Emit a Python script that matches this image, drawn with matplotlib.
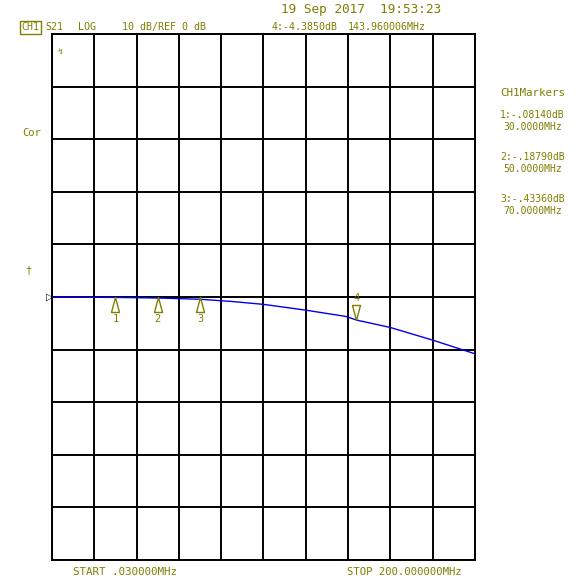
import numpy as np
import matplotlib
matplotlib.use('Agg')
import matplotlib.pyplot as plt
from matplotlib.path import Path

# S21 trace (MHz, dB)
freq_mhz = [0.03, 30, 50, 70, 85, 100, 120, 139, 144, 160, 180, 200]
s21_db = [0.0, -0.08, -0.19, -0.43, -0.85, -1.4, -2.5, -3.7, -4.385, -5.8, -8.2, -10.8]

marker_ids = ['1', '2', '3', '4']
marker_freq = [30.0, 50.0, 70.0, 143.960006]
marker_db = [-0.0814, -0.1879, -0.4336, -4.385]

marker_lines = [('1:-.08140dB', '30.0000MHz'),
                ('2:-.18790dB', '50.0000MHz'),
                ('3:-.43360dB', '70.0000MHz')]

start_mhz = 0.03
stop_mhz = 200.0
ref_db = 0.0
db_per_div = 10.0

olive = '#7f7f00'
mono = 'DejaVu Sans Mono'

W, H = 580, 585
fig = plt.figure(figsize=(W / 100, H / 100), dpi=100)
fig.patch.set_facecolor('white')

# px helpers (top-left origin like the screen)
def fx(x):
    return x / W

def fy(y):
    return 1 - y / H

ax = fig.add_axes([fx(52), fy(560), (475 - 52) / W, (560 - 34) / H])
ax.set_xlim(start_mhz, stop_mhz)
ax.set_ylim(ref_db - 5 * db_per_div, ref_db + 5 * db_per_div)
ax.set_xticks(np.linspace(start_mhz, stop_mhz, 11))
ax.set_yticks(np.arange(-5, 6) * db_per_div + ref_db)
ax.grid(True, color='black', lw=1.4)
ax.tick_params(length=0, labelbottom=False, labelleft=False)
for s in ax.spines.values():
    s.set_color('black')
    s.set_linewidth(1.4)

ax.plot(freq_mhz, s21_db, color='#0000ee', lw=1.0, zorder=3)

# marker triangles, apex on the trace
up = Path([(0, 0), (-4, -15), (4, -15), (0, 0)], [1, 2, 2, 79])
down = Path([(0, 0), (-4, 15), (4, 15), (0, 0)], [1, 2, 2, 79])
for i, (mid, f, d) in enumerate(zip(marker_ids, marker_freq, marker_db)):
    if i < 3:
        ax.plot([f], [ref_db], marker=up, ms=21.6, mfc='none', mec=olive,
                mew=1.0, zorder=4, clip_on=False)
        ax.annotate(mid, (f, ref_db), xytext=(0, -22), textcoords='offset pixels',
                    ha='center', va='center', color=olive, family=mono, fontsize=7.5)
    else:
        ax.plot([f], [d], marker=down, ms=21.6, mfc='none', mec=olive,
                mew=1.0, zorder=4, clip_on=False)
        ax.annotate(mid, (f, d), xytext=(0, 22), textcoords='offset pixels',
                    ha='center', va='center', color=olive, family=mono, fontsize=7.5)

# reference position marker
fig.text(fx(50), fy(297), '\u25b7', color='black', fontsize=7, ha='center', va='center')

def txt(x, y, s, size=7.2, **kw):
    fig.text(fx(x), fy(y), s, color=olive, family=mono, fontsize=size,
             ha='left', va='center', **kw)

txt(281, 10, '19 Sep 2017  19:53:23', size=9.2)
txt(21, 27, 'CH1', size=7.2,
    bbox=dict(boxstyle='square,pad=0.15', fc='none', ec=olive, lw=1.0))
txt(45, 27, 'S21')
txt(78, 27, 'LOG')
txt(122, 27, '10 dB/REF 0 dB')
txt(272, 27, '4:-4.3850dB')
txt(348, 27, '143.960006MHz')

txt(500, 93, 'CH1Markers', size=7.8)
for k, (a, b) in enumerate(marker_lines):
    y0 = 115 + 42 * k
    txt(500, y0, a, size=7.0)
    txt(503, y0 + 12, b, size=7.0)

txt(22, 133, 'Cor', size=7.5)
txt(25, 270, '\u2020', size=7.5)
txt(58, 52, '\u21af', size=6)

txt(73, 572, 'START .030000MHz', size=7.8)
txt(347, 572, 'STOP 200.000000MHz', size=7.6)

fig.savefig('out.png', dpi=100, facecolor='white')
